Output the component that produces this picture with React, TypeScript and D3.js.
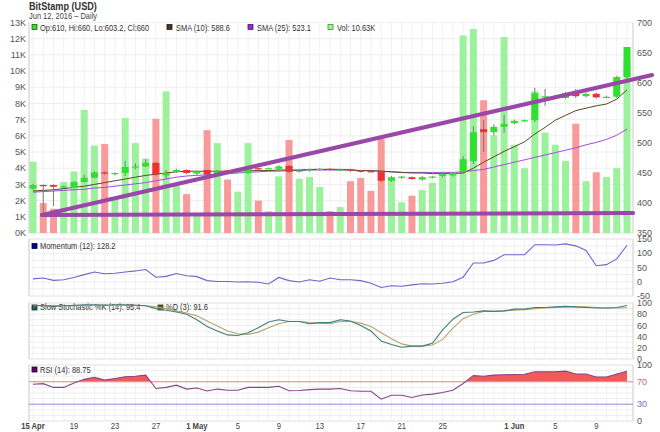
import React from "react";
import * as d3 from "d3";

// ---------- data ----------
const startDay = Date.UTC(2016, 3, 15);
const opens = [424,430,430,427,425,435,442,451,448,450,460,461,467,446,452,455,449,455,448,454,452,450,458,457,457,462,452,454,456,457,455,456,454,453,453,437,443,443,439,443,445,446,452,470,523,518,527,533,537,538,576,577,575,583,578,582,576,577,610];
const highs = [432,431,431,429,436,447,453,453,451,470,466,473,468,455,457,456,454,455,454,455,455,459,459,459,463,463,456,457,458,458,457,457,455,455,454,445,445,444,445,445,451,451,478,528,538,531,547,539,539,592,590,580,585,590,584,584,579,612,660];
const lows = [422,382,395,425,424,434,441,447,446,445,456,460,445,440,450,448,447,447,446,450,450,448,455,456,455,450,451,452,454,454,453,452,451,451,435,435,440,439,437,441,443,444,450,465,485,513,517,531,535,535,562,575,573,575,576,574,575,575,603.2];
const closes = [430,429,427,428,435,442,451,449,450,460,461,467,448,450,455,450,453,448,453,452,453,458,457,458,461,452,454,456,457,455,456,454,453,452,437,443,444,440,443,444,449,450,473,518,518,527,532,537,538,583,578,578,583,578,582,576,577,610,660];
const volumesK = [4.4,1.85,1.5,3.15,3.8,7.6,5.4,5.5,2.1,7.1,5.55,4.6,7.05,8.75,2.95,2.4,1.05,6.35,5.55,3.3,2.55,5.55,2.0,1.35,3.5,5.75,3.35,3.45,2.85,1.35,1.6,3.2,3.4,2.6,5.8,3.25,1.9,2.3,2.65,3.1,3.6,3.65,12.2,12.6,8.2,6.05,12.1,5.45,4.0,8.75,6.2,5.45,4.45,6.75,3.2,3.75,3.45,4.0,10.63];
const sma10 = [420,421,422,424,426,428,431,434,437,440,443,446,448,450,452,453,453,453,453,453,453,454,454,454,455,455,455,456,456,456,456,455,454,454,453,452,451,450,450,449,449,449,450,458,468,477,486,494,502,515,526,538,546,554,558,562,565,573,588.6];
const sma25 = [418,419,420,421,422,423,425,426,428,430,432,434,437,440,443,445,446,447,448,449,450,451,452,453,453,454,454,455,455,455,455,455,454,454,453,452,451,451,451,451,451,451,452,454,456,460,464,468,472,476,480,484,488,492,497,501,506,513,523.1];
const momentum = [10,13,5,7,15,25,34,28,30,34,38,43,16,19,29,21,18,4,1,1,-1,0,-2,-8,15,4,-1,7,2,13,7,7,4,-5,-20,-14,-16,-11,-7,-8,-5,0,16,66,66,75,95,95,95,130,130,129,133,126,110,56,60,80,128.2];
const stochK = [96,95,94,95,96,97,97,96,97,97,96,95,90,87,84,80,70,58,50,43,42,47,56,66,70,67,67,63,65,65,70,68,60,50,32,26,21,23,23,28,52,71,83,84,86,85,86,89,89,92,92,93,94,93,92,91,91,92,95.4];
const stochD = [95,95,95,95,95,96,96,96,96,96,96,95,93,90,86,82,77,68,59,50,45,44,48,56,63,67,67,65,64,63,67,67,64,58,47,36,27,23,23,25,35,55,72,80,85,85,86,87,88,90,91,92,93,93,93,92,91,91,91.6];
const rsi = [65.5,66.7,60,60,68,74.4,78,73,76,79,80,82,58,60,64,57,59,53.5,57,55,55,60,60,60,62,54,54.5,56,57,57,58,54,53,53,39,46,46,42,46.4,48,51,55,67,81,80,82,82.5,83,83.5,88,88,88,89,84,84,78.6,78.6,84,88.75];
// drawn trend lines: [day offset from 15 Apr, price]
const trendRising = [[0.88, 380], [60.45, 613.3]];
const trendFlat = [[0.88, 380], [58.6, 383.3]];

const volTicks = [0,1,2,3,4,5,6,7,8,9,10,11,12,13];
const priceTicks = [350,400,450,500,550,600,650,700];
const momTicks = [-50,0,50,100,150];
const stochTicks = [0,20,40,60,80,100];
const rsiTicks = [0,30,70,100];
const dateTicks = ["2016-04-15","2016-04-19","2016-04-23","2016-04-27","2016-05-01","2016-05-05","2016-05-09","2016-05-13","2016-05-17","2016-05-21","2016-05-25","2016-06-01","2016-06-05","2016-06-09"];

// ---------- layout ----------
const W = 660, H = 432;
const L = 29, R = 633;
const P = { main: [22.5, 233], mom: [239, 296], sto: [303, 359], rsi: [365, 421] };
const FONT = "'Liberation Sans', Arial, sans-serif";

const dayDate = (d: number) => new Date(startDay + d * 86400000);
const n = closes.length;
const x = d3.scaleUtc().domain([dayDate(0), dayDate(n - 1)]).range([33, 627]);
const xd = (d: number) => x(dayDate(d));
const yVol = d3.scaleLinear().domain([0, 13]).range([P.main[1], P.main[0]]);
const yPrice = d3.scaleLinear().domain([350, 700]).range([P.main[1], 23]);
const yMom = d3.scaleLinear().domain([-50, 150]).range([P.mom[1], P.mom[0]]);
const ySto = d3.scaleLinear().domain([0, 100]).range([P.sto[1], P.sto[0]]);
const yRsi = d3.scaleLinear().domain([0, 100]).range([P.rsi[1], P.rsi[0]]);

const idx = d3.range(n);

function T(props: any) {
  const { x, y, sx = 0.83, size = 9, weight = "normal", fill = "#333", anchor = "start", children } = props;
  return (
    <text transform={`translate(${x},${y}) scale(${sx},1)`} fontSize={size} fontWeight={weight}
      fill={fill} textAnchor={anchor} fontFamily={FONT}>{children}</text>
  );
}

function Panel({ top, bottom, hTicks, y }: any) {
  return (
    <g>
      <rect x={L} y={top} width={R - L} height={bottom - top} fill="#fff" stroke="#e2e2e2" />
      {idx.map(i => (
        <line key={"v" + i} x1={xd(i)} x2={xd(i)} y1={top} y2={bottom} stroke="#f1f1f1" />
      ))}
      {hTicks.map((t: number, k: number) => (
        <line key={"h" + k} x1={L} x2={R} y1={y(t)} y2={y(t)} stroke="#eeeeee" />
      ))}
      <line x1={L} x2={L} y1={top} y2={bottom} stroke="#d8d8d8" />
      <line x1={R} x2={R} y1={top} y2={bottom} stroke="#d8d8d8" />
    </g>
  );
}

function Sq({ x, y, fill, stroke }: any) {
  return <rect x={x} y={y} width={5} height={5} fill={fill} stroke={stroke} strokeWidth={0.8} />;
}

export default function App() {
  const lineOf = (arr: number[], y: any) =>
    d3.line<number>().x(i => xd(i)).y(i => y(arr[i]))(idx) || "";
  const trend = (pts: number[][]) =>
    d3.line<number[]>().x(p => xd(p[0])).y(p => yPrice(p[1]))(pts) || "";
  const rsiArea = d3.area<number>().x(i => xd(i)).y0(yRsi(70)).y1(i => yRsi(rsi[i]))(idx) || "";
  const half = (ticks: number[]) => {
    const out: number[] = [];
    for (let k = 0; k < ticks.length - 1; k++) out.push(ticks[k], (ticks[k] + ticks[k + 1]) / 2);
    out.push(ticks[ticks.length - 1]);
    return out;
  };
  const last = n - 1;
  const bw = 7;

  return (
    <svg width={W} height={H} style={{ position: "absolute", left: 0, top: 0, background: "#fff" }}>
      <defs>
        <clipPath id="rsiTop"><rect x={L} y={P.rsi[0]} width={R - L} height={yRsi(70) - P.rsi[0]} /></clipPath>
      </defs>
      <T x={29} y={9.5} size={11} weight="bold" fill="#333">BitStamp (USD)</T>
      <T x={29} y={19} size={9} fill="#444">Jun 12, 2016 – Daily</T>

      {/* main panel */}
      <Panel top={P.main[0]} bottom={P.main[1]} hTicks={volTicks} y={yVol} />
      {idx.map(i => {
        const up = closes[i] >= opens[i];
        return (
          <rect key={"vol" + i} x={xd(i) - bw / 2} y={yVol(volumesK[i])} width={bw}
            height={yVol(0) - yVol(volumesK[i])} fill={up ? "#9cf29c" : "#f99a9a"} />
        );
      })}
      <path d={lineOf(sma25, yPrice)} fill="none" stroke="#a24de0" strokeWidth={1} />
      <path d={lineOf(sma10, yPrice)} fill="none" stroke="#5e4622" strokeWidth={1} />
      {idx.map(i => {
        const up = closes[i] >= opens[i];
        const yo = yPrice(opens[i]), yc = yPrice(closes[i]);
        const top = Math.min(yo, yc), h = Math.max(1.2, Math.abs(yo - yc));
        return (
          <g key={"c" + i}>
            <line x1={xd(i)} x2={xd(i)} y1={yPrice(highs[i])} y2={yPrice(lows[i])} stroke="#7a7a7a" strokeWidth={1} />
            <rect x={xd(i) - bw / 2} y={top} width={bw} height={h} fill={up ? "#2fe02f" : "#ee3030"} />
          </g>
        );
      })}
      <path d={trend(trendFlat)} fill="none" stroke="#9a48a8" strokeWidth={4} strokeLinecap="round" />
      <path d={trend(trendRising)} fill="none" stroke="#9a48a8" strokeWidth={4} strokeLinecap="round" />
      <Sq x={32} y={24.5} fill="#33dd33" stroke="#116611" />
      <T x={40} y={30.5}>{`Op:${opens[last]}, Hi:${highs[last]}, Lo:${lows[last]}, Cl:${closes[last]}`}</T>
      <Sq x={167} y={24.5} fill="#4a3420" stroke="#2a1a10" />
      <T x={176} y={30.5}>{`SMA (10): ${sma10[last]}`}</T>
      <Sq x={248} y={24.5} fill="#8a2fd0" stroke="#55108a" />
      <T x={257} y={30.5}>{`SMA (25): ${sma25[last]}`}</T>
      <Sq x={328} y={24.5} fill="#9cf29c" stroke="#3a9a3a" />
      <T x={337} y={30.5}>{`Vol: ${volumesK[last]}K`}</T>
      {volTicks.map(t => (
        <text key={"vt" + t} x={26} y={yVol(t)} dy="0.35em" textAnchor="end" fontSize={9} fontFamily={FONT} fill="#555">{t + "K"}</text>
      ))}
      {priceTicks.map(t => (
        <text key={"pt" + t} x={637} y={yPrice(t)} dy="0.35em" fontSize={9} fontFamily={FONT} fill="#555">{t}</text>
      ))}

      {/* momentum */}
      <Panel top={P.mom[0]} bottom={P.mom[1]} hTicks={half(momTicks)} y={yMom} />
      <Sq x={32} y={243.5} fill="#000099" stroke="#000055" />
      <T x={40} y={248.5}>{`Momentum (12): ${momentum[last]}`}</T>
      <path d={lineOf(momentum, yMom)} fill="none" stroke="#6a68c8" strokeWidth={1.1} />
      {momTicks.map(t => (
        <text key={"mt" + t} x={637} y={yMom(t)} dy="0.35em" fontSize={9} fontFamily={FONT} fill="#555">{t}</text>
      ))}

      {/* stochastic */}
      <Panel top={P.sto[0]} bottom={P.sto[1]} hTicks={half(stochTicks)} y={ySto} />
      <Sq x={32} y={305} fill="#2a5a58" stroke="#153030" />
      <T x={40} y={310}>{`Slow Stochastic %K (14): ${stochK[last]}`}</T>
      <Sq x={158} y={305} fill="#5c5a22" stroke="#333310" />
      <T x={166} y={310}>{`%D (3): ${stochD[last]}`}</T>
      <path d={lineOf(stochD, ySto)} fill="none" stroke="#b5a46a" strokeWidth={1.1} />
      <path d={lineOf(stochK, ySto)} fill="none" stroke="#3f7f7a" strokeWidth={1.1} />
      {stochTicks.map(t => (
        <text key={"st" + t} x={637} y={ySto(t)} dy="0.35em" fontSize={9} fontFamily={FONT} fill="#555">{t}</text>
      ))}

      {/* RSI */}
      <Panel top={P.rsi[0]} bottom={P.rsi[1]} hTicks={[10,20,40,50,60,80,90]} y={yRsi} />
      <path d={rsiArea} fill="#f25a5a" clipPath="url(#rsiTop)" />
      <line x1={L} x2={R} y1={yRsi(70)} y2={yRsi(70)} stroke="#e08a8a" />
      <line x1={L} x2={R} y1={yRsi(30)} y2={yRsi(30)} stroke="#8a8ad8" />
      <path d={lineOf(rsi, yRsi)} fill="none" stroke="#884488" strokeWidth={1.1} />
      <Sq x={32} y={367} fill="#660066" stroke="#330033" />
      <T x={40} y={372.5}>{`RSI (14): ${rsi[last]}`}</T>
      {rsiTicks.map(t => (
        <text key={"rt" + t} x={637} y={yRsi(t)} dy="0.35em" fontSize={9} fontFamily={FONT}
          fill={t === 70 ? "#c86a6a" : t === 30 ? "#7070c8" : "#555"}>{t}</text>
      ))}

      {/* date axis */}
      {dateTicks.map(s => {
        const d = new Date(s + "T00:00:00Z");
        const first = d.getUTCDate() === 1 || s === dateTicks[0];
        const label = first ? `${d.getUTCDate()} ${d3.utcFormat("%b")(d)}` : `${d.getUTCDate()}`;
        return (
          <T key={s} x={x(d)} y={429} anchor="middle" sx={0.85} weight={first ? "bold" : "normal"} fill="#444">{label}</T>
        );
      })}
    </svg>
  );
}
